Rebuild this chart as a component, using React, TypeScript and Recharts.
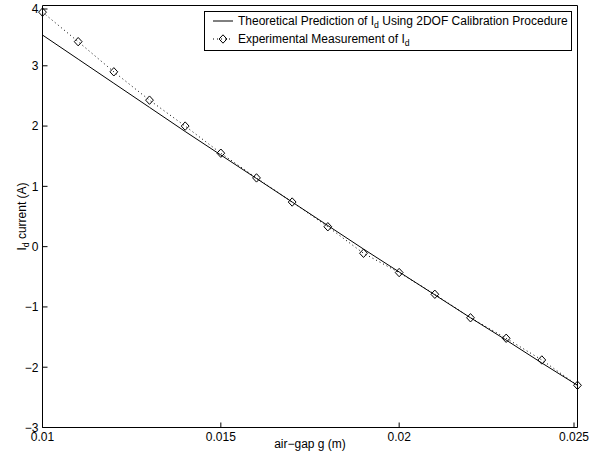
import React from 'react';
import { ScatterChart, Scatter, XAxis, YAxis, Legend } from 'recharts';

// air-gap values (m)
const gap = [
  0.01, 0.011, 0.012, 0.013, 0.014, 0.015, 0.016, 0.017,
  0.018, 0.019, 0.02, 0.021, 0.022, 0.023, 0.024, 0.025,
];
// measured I_d (A)
const measured = [
  3.89, 3.4, 2.9, 2.43, 2.0, 1.55, 1.14, 0.74,
  0.33, -0.11, -0.43, -0.79, -1.18, -1.52, -1.88, -2.3,
];
// theoretical prediction I_d (A)
const theory = [
  3.51, 3.11, 2.71, 2.31, 1.91, 1.52, 1.13, 0.74,
  0.35, -0.04, -0.42, -0.8, -1.18, -1.55, -1.93, -2.3,
];
const xTicks = [0.01, 0.015, 0.02, 0.025];
const yTicks = [-3, -2, -1, 0, 1, 2, 3, 4];

const measuredData = gap.map((x, i) => ({ x, y: measured[i] }));
const theoryData = gap.map((x, i) => ({ x, y: theory[i] }));

const FONT = '"Liberation Sans", Arial, Helvetica, sans-serif';
const FS = 12;
const SUB = 8.7;
const fmtY = (v: number) => String(v).replace('-', '\u2212');

const Diamond = (p: any) => {
  const { cx, cy } = p;
  return (
    <path
      d={`M${cx},${cy - 4.2} L${cx + 3.9},${cy} L${cx},${cy + 4.2} L${cx - 3.9},${cy} Z`}
      fill="none"
      stroke="#000"
      strokeWidth={1}
    />
  );
};

const BottomTick = ({ x, y, payload }: any) => (
  <g>
    <line x1={x} y1={y} x2={x} y2={y - 5} stroke="#000" />
    <text x={x} y={y + 13.5} textAnchor="middle" fontSize={FS} fill="#000">
      {String(payload.value)}
    </text>
  </g>
);

const LeftTick = ({ x, y, payload }: any) => (
  <g>
    <line x1={x} y1={y} x2={x + 5} y2={y} stroke="#000" />
    <text x={x - 4} y={y + 4.3} textAnchor="end" fontSize={FS} fill="#000">
      {fmtY(payload.value)}
    </text>
  </g>
);

const YLabel = ({ viewBox }: any) => {
  const bx = viewBox.x + 26;
  const cy = viewBox.y + viewBox.height / 2;
  return (
    <text
      x={bx}
      y={cy}
      transform={`rotate(-90 ${bx} ${cy})`}
      textAnchor="middle"
      fontSize={FS}
      fill="#000"
    >
      I<tspan dy={3} fontSize={SUB}>d</tspan>
      <tspan dy={-3}> current (A)</tspan>
    </text>
  );
};

const LegendBox = () => (
  <svg width={368} height={40} style={{ display: 'block', fontFamily: FONT }}>
    <rect x={0.5} y={0.5} width={367} height={39} fill="#fff" stroke="#000" />
    <line x1={9} y1={10} x2={29} y2={10} stroke="#000" />
    <text x={34} y={14} fontSize={FS} fill="#000">
      Theoretical Prediction of I<tspan dy={3} fontSize={SUB}>d</tspan>
      <tspan dy={-3}> Using 2DOF Calibration Procedure</tspan>
    </text>
    <line x1={9} y1={28} x2={29} y2={28} stroke="#000" strokeDasharray="1 3" />
    <Diamond cx={19} cy={28} />
    <text x={34} y={32} fontSize={FS} fill="#000">
      Experimental Measurement of I<tspan dy={3} fontSize={SUB}>d</tspan>
    </text>
  </svg>
);

export default function App() {
  return (
    <div style={{ position: 'absolute', left: 0, top: 0, fontFamily: FONT, background: '#fff' }}>
      <ScatterChart width={592} height={455} margin={{ top: 5.5, right: 14.5, bottom: 0, left: 0 }}>
        <XAxis
          type="number"
          dataKey="x"
          domain={[0.01, 0.025]}
          ticks={xTicks}
          height={27.5}
          tickSize={0}
          tickMargin={0}
          tick={<BottomTick />}
          axisLine={{ stroke: '#000' }}
          label={{ value: 'air\u2212gap g (m)', position: 'insideBottom', offset: 7, fontSize: FS, fill: '#000' }}
        />
        <XAxis
          xAxisId="top"
          type="number"
          orientation="top"
          mirror
          domain={[0.01, 0.025]}
          ticks={xTicks}
          tick={false}
          tickSize={5}
          tickLine={{ stroke: '#000' }}
          axisLine={{ stroke: '#000' }}
        />
        <YAxis
          type="number"
          dataKey="y"
          domain={[-3, 4]}
          ticks={yTicks}
          width={42.5}
          tickSize={0}
          tickMargin={0}
          tick={<LeftTick />}
          axisLine={{ stroke: '#000' }}
          label={<YLabel />}
        />
        <YAxis
          yAxisId="right"
          type="number"
          orientation="right"
          mirror
          domain={[-3, 4]}
          ticks={yTicks}
          tick={false}
          tickSize={5}
          tickLine={{ stroke: '#000' }}
          axisLine={{ stroke: '#000' }}
        />
        <Legend
          layout="vertical"
          align="center"
          verticalAlign="middle"
          wrapperStyle={{ left: 204, top: 11, width: 368, height: 40 }}
          content={() => <LegendBox />}
        />
        <Scatter
          name="theory"
          data={theoryData}
          line={{ stroke: '#000', strokeWidth: 1 }}
          shape={() => <g />}
          isAnimationActive={false}
        />
        <Scatter
          name="measured"
          data={measuredData}
          line={{ stroke: '#000', strokeWidth: 1, strokeDasharray: '1 3' }}
          shape={<Diamond />}
          isAnimationActive={false}
        />
      </ScatterChart>
    </div>
  );
}
